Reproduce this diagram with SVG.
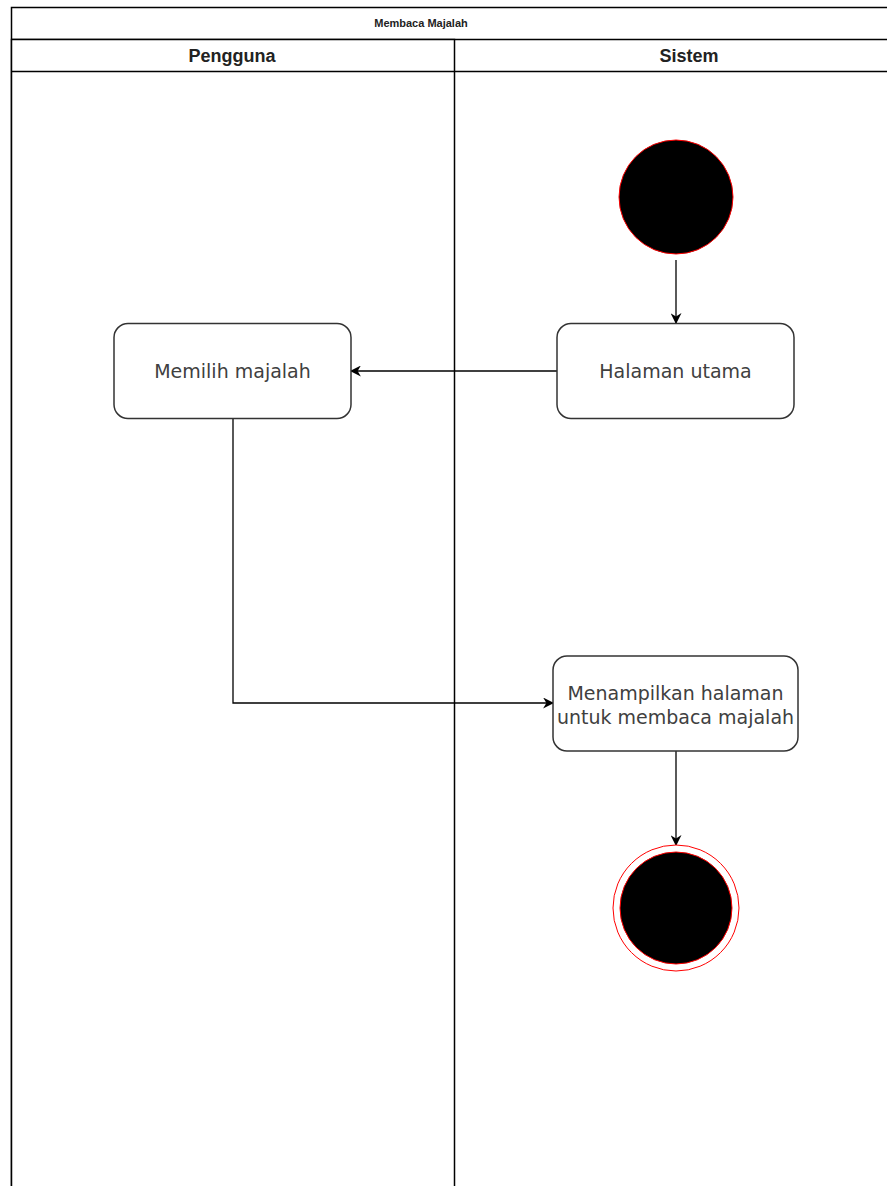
<svg xmlns="http://www.w3.org/2000/svg" width="887" height="1186" viewBox="0 0 887 1186">
  <style>
    .lane { fill: #ffffff; stroke: #000000; stroke-width: 1.5; }
    .pool-title { font-family: "Liberation Sans", Arial, sans-serif; font-size: 11px; font-weight: bold; fill: #222222; text-anchor: middle; }
    .lane-title { font-family: "Liberation Sans", Arial, sans-serif; font-size: 18px; font-weight: bold; fill: #222222; text-anchor: middle; }
    .act { fill: #ffffff; stroke: #333333; stroke-width: 1.5; }
    .act-text { font-family: "DejaVu Sans", "Open Sans", sans-serif; font-size: 19px; fill: #404040; text-anchor: middle; }
    .edge { fill: none; stroke: #000000; stroke-width: 1.3; }
    .start { fill: #000000; stroke: #ff0000; stroke-width: 1; }
  </style>
  <defs>
    <marker id="arrow" viewBox="0 0 10 10" refX="9" refY="5" markerWidth="11" markerHeight="11" markerUnits="userSpaceOnUse" orient="auto">
      <path d="M0,0 L10,5 L0,10 L3,5 Z" fill="#000000"/>
    </marker>
  </defs>

  <rect width="887" height="1186" fill="#ffffff"/>

  <!-- swimlane pool -->
  <g id="pool">
    <rect class="lane" x="11.5" y="7.5" width="913" height="1200"/>
    <line class="lane" x1="11.5" y1="39.5" x2="924.5" y2="39.5"/>
    <text class="pool-title" x="421" y="27">Membaca Majalah</text>
  </g>
  <g id="lane-pengguna">
    <rect class="lane" x="11.5" y="39.5" width="443" height="1170" fill="none"/>
    <line class="lane" x1="11.5" y1="71.5" x2="454.5" y2="71.5"/>
    <text class="lane-title" x="232" y="62">Pengguna</text>
  </g>
  <g id="lane-sistem">
    <line class="lane" x1="454.5" y1="71.5" x2="924.5" y2="71.5"/>
    <text class="lane-title" x="689" y="62">Sistem</text>
  </g>

  <!-- connectors -->
  <g id="edges">
    <path class="edge" d="M676,260 L676,323" marker-end="url(#arrow)"/>
    <path class="edge" d="M557,371 L351,371" marker-end="url(#arrow)"/>
    <path class="edge" d="M233,419 L233,703 L553,703" marker-end="url(#arrow)"/>
    <path class="edge" d="M676,751 L676,845" marker-end="url(#arrow)"/>
  </g>

  <!-- nodes -->
  <g id="start">
    <circle class="start" cx="676" cy="197" r="57"/>
  </g>
  <g id="halaman-utama">
    <rect class="act" x="557" y="323.5" width="237" height="95" rx="14"/>
    <text class="act-text" x="675.5" y="378">Halaman utama</text>
  </g>
  <g id="memilih-majalah">
    <rect class="act" x="114" y="323.5" width="237" height="95" rx="14"/>
    <text class="act-text" x="232.5" y="378">Memilih majalah</text>
  </g>
  <g id="menampilkan-halaman">
    <rect class="act" x="553" y="656" width="245" height="95" rx="14"/>
    <text class="act-text" x="675.5" y="700">Menampilkan halaman</text>
    <text class="act-text" x="675.5" y="724">untuk membaca majalah</text>
  </g>
  <g id="end">
    <circle cx="676" cy="908" r="63" fill="#ffffff" stroke="#ff0000" stroke-width="1"/>
    <circle class="start" cx="676" cy="908" r="56"/>
  </g>
</svg>
